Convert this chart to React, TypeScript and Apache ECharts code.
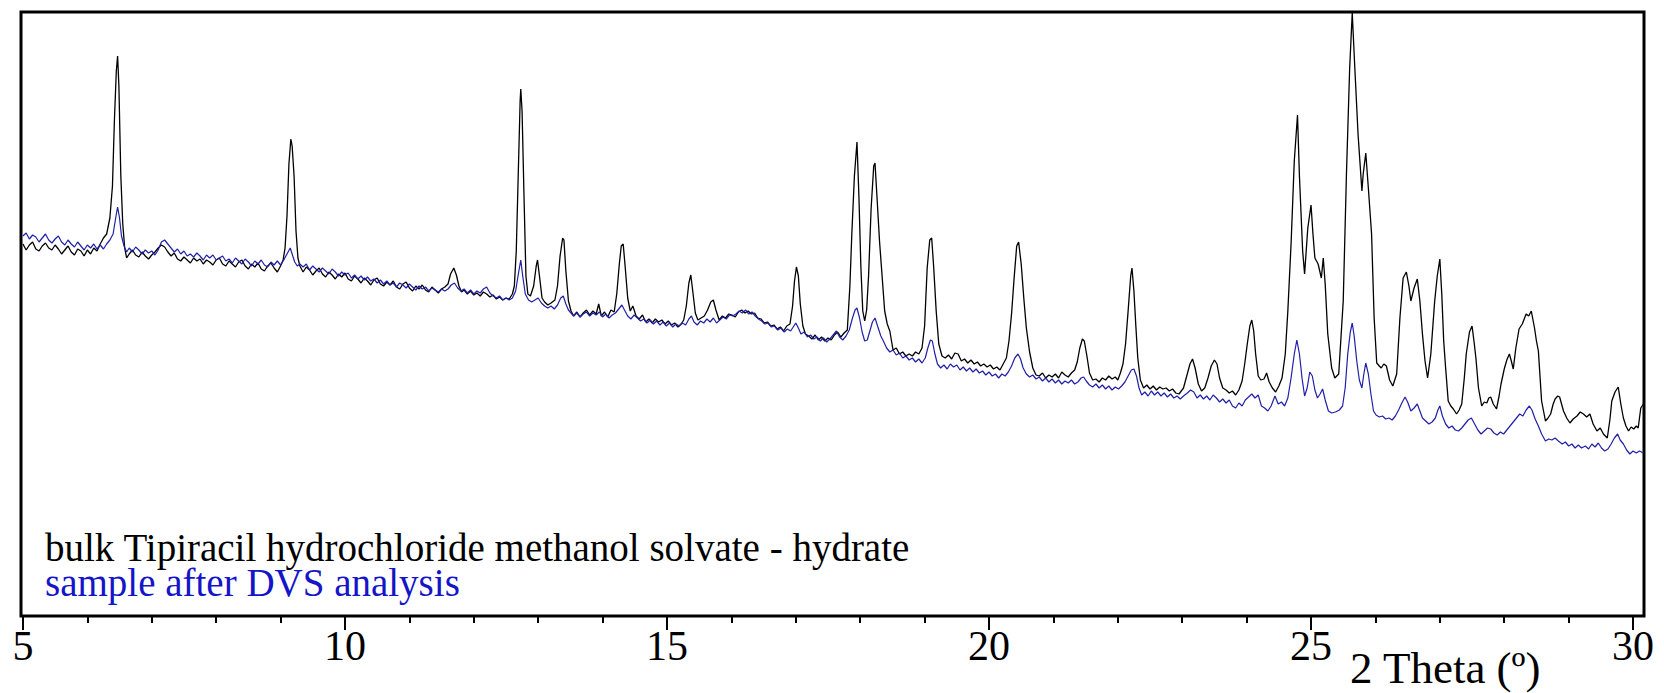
import React, { useEffect, useRef } from "react";
import * as echarts from "echarts";

// 2θ (degrees) vs. intensity (a.u.) for the bulk methanol solvate - hydrate
const bulkPattern: [number, number][] = [
  [5.00,372],[5.05,366],[5.10,371],[5.15,374],[5.20,367],[5.25,365],[5.30,370],[5.35,373],[5.40,368],[5.45,366],
  [5.50,371],[5.55,367],[5.60,362],[5.65,366],[5.70,370],[5.75,364],[5.80,361],[5.85,367],[5.90,365],[5.95,360],
  [6.00,366],[6.05,362],[6.10,368],[6.15,365],[6.20,372],[6.25,378],
  [6.30,382],[6.35,398],[6.39,430],[6.42,495],[6.45,545],[6.47,560],[6.49,530],[6.52,440],[6.55,392],[6.58,368],[6.61,358],
  [6.65,362],[6.70,366],[6.75,361],[6.80,359],[6.85,364],[6.90,360],[6.95,357],[7.00,361],[7.05,364],[7.10,368],
  [7.15,371],[7.20,369],[7.25,364],[7.30,360],[7.35,363],[7.40,357],[7.45,355],[7.50,359],[7.55,356],[7.60,353],
  [7.65,358],[7.70,355],[7.75,357],[7.80,352],[7.85,356],[7.90,354],[7.95,351],[8.00,356],[8.05,358],[8.10,352],
  [8.15,350],[8.20,355],[8.25,352],[8.30,349],[8.35,354],[8.40,356],[8.45,350],[8.50,347],[8.55,352],[8.60,349],
  [8.65,353],[8.70,347],[8.75,345],[8.80,350],[8.85,353],[8.90,348],[8.95,344],[9.00,350],[9.04,356],
  [9.07,368],[9.10,400],[9.13,452],[9.16,477],[9.18,470],[9.21,440],[9.24,385],[9.27,358],[9.30,350],
  [9.35,344],[9.40,349],[9.45,346],[9.50,341],[9.55,345],[9.60,348],[9.65,342],[9.70,339],[9.75,344],[9.80,341],
  [9.85,337],[9.90,342],[9.95,339],[10.00,343],[10.05,337],[10.10,335],[10.15,340],[10.20,337],[10.25,333],[10.30,338],
  [10.35,335],[10.40,331],[10.45,336],[10.50,338],[10.55,332],[10.60,330],[10.65,334],[10.70,331],[10.75,335],[10.80,329],
  [10.85,327],[10.90,332],[10.95,334],[11.00,328],[11.05,325],[11.10,330],[11.15,327],[11.20,331],[11.25,326],[11.30,324],
  [11.35,329],[11.40,326],[11.45,323],[11.50,327],[11.55,329],
  [11.60,332],[11.64,342],[11.69,348],[11.73,341],[11.77,330],[11.81,324],
  [11.85,326],[11.90,322],[11.95,325],[12.00,321],[12.05,323],[12.10,320],[12.15,324],[12.20,322],[12.25,319],[12.30,321],
  [12.35,317],[12.40,319],[12.45,316],[12.50,318],[12.55,317],[12.60,322],
  [12.63,330],[12.66,365],[12.69,440],[12.72,515],[12.73,527],[12.75,505],[12.78,420],[12.81,340],[12.84,322],
  [12.88,320],[12.93,330],[12.97,350],[12.99,356],[13.02,340],[13.06,318],[13.10,314],
  [13.15,311],[13.20,313],[13.26,316],[13.30,330],[13.34,360],[13.38,378],[13.40,376],[13.43,345],[13.47,315],[13.51,305],
  [13.55,300],[13.60,304],[13.65,299],[13.70,303],[13.75,306],[13.80,301],[13.85,305],[13.90,302],[13.94,312],[13.98,300],
  [14.03,304],[14.08,299],[14.13,306],
  [14.18,304],[14.22,322],[14.26,352],[14.29,370],[14.32,372],[14.35,350],[14.39,318],[14.43,305],
  [14.47,310],[14.52,300],[14.57,297],[14.62,301],[14.67,294],[14.72,297],[14.77,293],[14.82,297],[14.87,294],[14.92,296],
  [14.97,292],[15.02,295],[15.07,291],[15.12,293],[15.17,289],[15.22,292],
  [15.26,296],[15.30,310],[15.34,333],[15.37,341],[15.40,325],[15.44,303],[15.48,296],
  [15.53,298],[15.58,300],[15.63,306],[15.68,314],[15.72,316],[15.76,306],[15.81,296],
  [15.86,300],[15.91,298],[15.96,302],[16.01,301],[16.06,299],[16.11,304],[16.16,306],[16.21,303],[16.26,305],[16.31,302],
  [16.36,303],[16.41,298],[16.46,297],[16.51,293],[16.56,294],[16.61,290],[16.66,291],[16.71,287],[16.76,289],[16.81,285],
  [16.86,290],
  [16.91,292],[16.95,310],[16.98,335],[17.01,349],[17.04,340],[17.07,312],[17.11,290],[17.15,282],
  [17.20,280],[17.25,277],[17.30,281],[17.35,276],[17.40,279],[17.45,275],[17.50,278],[17.55,276],[17.60,281],[17.65,284],
  [17.70,279],[17.75,283],
  [17.80,286],[17.84,330],[17.87,382],[17.91,440],[17.95,474],[17.98,420],[18.01,350],[18.04,305],[18.07,295],[18.10,306],
  [18.13,340],[18.17,408],[18.21,450],[18.23,453],[18.26,420],[18.30,375],[18.34,340],[18.38,305],[18.42,292],[18.46,285],
  [18.51,266],
  [18.56,268],[18.61,262],[18.66,264],[18.71,260],[18.76,262],[18.81,260],[18.86,264],[18.91,262],[18.96,268],
  [19.00,290],[19.04,348],[19.08,376],[19.11,378],[19.14,350],[19.18,305],[19.22,272],
  [19.27,260],[19.32,258],[19.37,261],[19.42,257],[19.47,263],[19.52,262],[19.57,255],[19.62,257],[19.67,253],[19.72,256],
  [19.77,252],[19.82,254],[19.87,250],[19.92,252],[19.97,249],[20.02,251],[20.07,247],[20.12,249],[20.17,246],[20.22,252],
  [20.27,258],[20.31,275],[20.35,302],[20.39,338],[20.43,370],[20.46,374],[20.50,352],[20.54,318],[20.58,288],[20.63,264],
  [20.68,248],[20.73,241],
  [20.78,240],[20.83,243],[20.88,238],[20.93,241],[20.98,239],[21.03,242],[21.08,238],[21.13,244],[21.18,241],[21.23,239],
  [21.28,243],[21.33,246],
  [21.37,254],[21.41,268],[21.45,277],[21.48,275],[21.52,260],[21.56,243],[21.61,236],
  [21.66,237],[21.71,234],[21.76,238],[21.81,236],[21.86,240],[21.91,237],[21.96,239],[22.00,236],[22.04,243],
  [22.08,252],[22.12,272],[22.16,305],[22.20,340],[22.22,348],[22.25,325],[22.28,290],[22.31,258],[22.35,236],
  [22.40,228],[22.45,231],[22.50,227],[22.55,230],[22.60,226],[22.65,229],[22.70,227],[22.75,228],[22.80,225],[22.85,227],
  [22.90,223],[22.95,222],
  [23.02,228],[23.07,240],[23.12,252],[23.16,257],[23.20,248],[23.25,232],[23.30,225],
  [23.35,228],[23.40,238],[23.45,250],[23.50,256],[23.54,252],[23.58,238],[23.63,228],
  [23.68,226],[23.73,223],[23.78,225],[23.83,221],[23.88,226],
  [23.93,235],[23.97,252],[24.01,272],[24.05,290],[24.08,296],[24.11,285],[24.14,262],[24.18,240],[24.22,236],
  [24.27,237],[24.31,243],[24.35,234],[24.40,228],[24.45,224],[24.50,230],[24.55,238],
  [24.60,262],[24.64,305],[24.69,372],[24.74,455],[24.79,501],[24.82,440],[24.87,365],[24.90,342],[24.95,388],[25.00,411],
  [25.03,382],[25.06,358],[25.11,352],[25.16,338],[25.19,358],[25.22,332],[25.26,282],[25.32,248],[25.37,238],[25.43,242],
  [25.50,315],[25.55,442],[25.60,548],[25.64,603],[25.68,548],[25.73,482],[25.79,425],[25.81,442],[25.85,463],[25.89,428],
  [25.94,382],[25.98,298],[26.02,253],[26.06,250],[26.09,248],[26.13,252],[26.17,250],[26.22,236],[26.27,230],[26.33,242],
  [26.38,298],[26.43,338],[26.48,344],[26.52,330],[26.55,315],[26.60,328],[26.65,337],[26.69,315],[26.73,282],[26.77,255],
  [26.81,238],[26.86,262],[26.92,315],[26.96,340],[27.00,357],[27.03,322],[27.06,275],[27.09,248],[27.13,215],[27.17,210],
  [27.21,207],[27.26,202],[27.30,206],[27.34,212],[27.38,238],[27.41,262],[27.46,284],[27.50,290],[27.53,275],[27.56,258],
  [27.60,228],[27.65,210],[27.69,214],[27.73,213],[27.76,218],[27.79,219],[27.83,212],[27.88,207],[27.92,220],[27.95,232],
  [28.00,247],[28.04,256],[28.08,262],[28.11,255],[28.14,247],[28.18,268],[28.23,287],[28.28,292],[28.34,302],[28.38,300],
  [28.42,305],[28.47,288],[28.50,275],[28.53,265],[28.58,215],[28.64,195],[28.68,198],[28.72,202],[28.76,212],[28.79,217],
  [28.83,220],[28.86,219],[28.89,212],[28.92,205],[28.97,198],[29.02,193],[29.07,197],[29.13,200],[29.18,204],[29.23,202],
  [29.28,199],[29.33,202],[29.38,192],[29.44,185],[29.49,188],[29.54,182],[29.60,178],[29.64,196],[29.67,215],[29.72,224],
  [29.77,229],[29.81,212],[29.85,198],[29.89,190],[29.93,185],[29.97,189],[30.01,187],[30.05,190],[30.08,188],[30.12,208],
  [30.16,212],
];

// 2θ (degrees) vs. intensity (a.u.) for the sample recovered after DVS
const dvsPattern: [number, number][] = [
  [5.00,380],[5.05,383],[5.10,377],[5.15,381],[5.20,379],[5.25,374],[5.30,378],[5.35,382],[5.40,376],[5.45,373],
  [5.50,377],[5.55,380],[5.60,374],[5.65,371],[5.70,376],[5.75,372],[5.80,369],[5.85,374],[5.90,370],[5.95,366],
  [6.00,371],[6.05,368],[6.10,372],[6.15,367],[6.20,371],[6.25,367],[6.30,372],[6.35,376],[6.40,382],[6.44,398],
  [6.47,409],[6.50,398],[6.53,380],[6.57,370],[6.61,364],
  [6.65,368],[6.70,364],[6.75,369],[6.80,366],[6.85,362],[6.90,366],[6.95,363],[7.00,365],[7.05,361],[7.10,366],
  [7.15,374],[7.20,376],[7.25,372],[7.30,368],[7.35,364],[7.40,367],[7.45,362],[7.50,365],[7.55,360],[7.60,362],
  [7.65,359],[7.70,363],[7.75,360],[7.80,356],[7.85,361],[7.90,358],[7.95,361],[8.00,356],[8.05,358],[8.10,360],
  [8.15,355],[8.20,357],[8.25,353],[8.30,358],[8.35,355],[8.40,352],[8.45,357],[8.50,354],[8.55,350],[8.60,355],
  [8.65,352],[8.70,356],[8.75,351],[8.80,349],[8.85,354],[8.90,351],[8.95,355],[9.00,351],[9.05,356],[9.10,362],
  [9.15,368],[9.18,362],[9.22,354],[9.26,350],[9.30,352],
  [9.35,349],[9.40,352],[9.45,346],[9.50,350],[9.55,347],[9.60,344],[9.65,348],[9.70,345],[9.75,342],[9.80,347],
  [9.85,344],[9.90,340],[9.95,344],[10.00,341],[10.05,343],[10.10,338],[10.15,341],[10.20,337],[10.25,340],[10.30,336],
  [10.35,339],[10.40,335],[10.45,337],[10.50,333],[10.55,336],[10.60,332],[10.65,335],[10.70,331],[10.75,333],[10.80,329],
  [10.85,333],[10.90,331],[10.95,328],[11.00,332],[11.05,329],[11.10,326],[11.15,330],[11.20,327],[11.25,329],[11.30,325],
  [11.35,328],[11.40,326],[11.45,324],[11.50,327],[11.55,325],[11.60,327],[11.65,331],[11.70,333],[11.75,328],[11.80,325],
  [11.85,327],[11.90,323],[11.95,326],[12.00,322],[12.05,325],[12.10,323],[12.15,327],[12.20,329],[12.25,323],[12.30,320],
  [12.35,318],[12.40,320],[12.45,316],[12.50,318],[12.55,316],[12.60,318],[12.65,325],[12.70,345],[12.73,356],[12.76,340],
  [12.80,322],[12.85,316],[12.90,314],[12.95,316],[13.00,318],[13.05,313],[13.10,310],[13.15,308],[13.20,310],[13.25,307],
  [13.30,311],[13.35,318],[13.39,320],[13.43,312],[13.47,306],[13.51,303],
  [13.55,300],[13.60,303],[13.65,299],[13.70,302],[13.75,304],[13.80,300],[13.85,303],[13.90,301],[13.95,304],[14.00,299],
  [14.05,302],[14.10,298],[14.15,301],[14.20,303],[14.25,307],[14.30,311],[14.34,306],[14.39,300],[14.44,297],[14.49,301],
  [14.54,298],[14.59,295],[14.64,297],[14.69,293],[14.74,296],[14.79,292],[14.84,295],[14.89,291],[14.94,294],[14.99,290],
  [15.04,293],[15.09,289],[15.14,292],[15.19,290],[15.24,293],[15.29,291],[15.34,297],[15.38,300],[15.42,294],[15.47,291],
  [15.52,295],[15.57,293],[15.62,297],[15.67,294],[15.72,298],[15.77,293],[15.82,296],
  [15.87,299],[15.92,297],[15.97,301],[16.02,300],[16.07,302],[16.12,305],[16.17,303],[16.22,306],[16.27,302],[16.32,304],
  [16.37,300],[16.42,297],[16.47,295],[16.52,292],[16.57,293],[16.62,289],[16.67,290],[16.72,286],[16.77,288],[16.82,284],
  [16.87,287],[16.92,285],[16.96,289],[17.00,293],[17.04,288],[17.08,282],[17.13,284],[17.18,279],[17.23,281],[17.28,277],
  [17.33,279],[17.38,275],[17.43,278],[17.48,274],[17.53,277],[17.58,281],[17.63,285],[17.68,279],[17.73,276],[17.78,280],
  [17.83,286],[17.88,298],[17.92,306],[17.95,308],[17.99,298],[18.03,284],[18.07,275],[18.11,276],[18.15,285],[18.19,294],
  [18.23,298],[18.27,290],[18.32,280],[18.36,275],[18.41,268],[18.46,264],[18.51,266],[18.56,261],[18.61,263],[18.66,258],
  [18.71,260],[18.76,256],[18.81,258],[18.86,254],[18.91,257],[18.96,253],[19.01,258],[19.05,268],[19.09,276],[19.12,275],
  [19.16,262],[19.20,252],[19.25,248],[19.30,251],[19.35,247],[19.40,252],[19.45,249],[19.50,251],[19.55,246],[19.60,249],
  [19.65,245],[19.70,248],[19.75,244],[19.80,247],[19.85,243],[19.90,245],[19.95,241],[20.00,244],[20.05,240],[20.10,242],
  [20.15,238],[20.20,242],[20.25,240],[20.30,244],[20.35,250],[20.40,258],[20.45,262],[20.49,257],[20.53,248],[20.58,242],
  [20.63,239],[20.68,241],[20.73,237],[20.78,239],[20.83,235],[20.88,238],[20.93,234],[20.98,237],[21.03,233],[21.08,236],
  [21.13,232],[21.18,235],[21.23,233],[21.28,236],[21.33,232],[21.38,234],[21.43,238],[21.47,239],[21.51,235],[21.56,231],
  [21.61,229],[21.66,232],[21.71,228],[21.76,231],[21.81,227],[21.86,230],[21.91,226],[21.96,229],[22.01,227],[22.06,230],
  [22.11,234],[22.16,240],[22.21,246],[22.25,247],[22.29,240],[22.33,228],[22.37,221],[22.42,224],[22.47,220],[22.52,225],
  [22.57,221],[22.62,224],[22.67,220],[22.72,223],[22.77,219],[22.82,222],[22.87,218],[22.92,220],[22.97,217],[23.02,220],
  [23.08,223],[23.13,226],[23.18,224],[23.23,218],[23.28,221],[23.33,217],[23.38,220],[23.43,216],[23.48,221],[23.53,218],
  [23.58,214],[23.63,217],[23.68,213],[23.73,216],[23.78,210],[23.83,208],[23.88,213],[23.93,210],[23.98,216],[24.03,219],
  [24.08,222],[24.13,218],[24.18,221],[24.23,210],[24.28,208],[24.33,205],[24.38,210],[24.44,220],[24.49,212],[24.54,214],
  [24.59,210],[24.64,218],[24.69,238],[24.74,262],[24.78,276],[24.82,262],[24.86,238],[24.90,220],[24.94,228],[24.98,244],
  [25.02,240],[25.06,226],[25.10,218],[25.14,222],[25.18,227],[25.22,216],[25.27,205],[25.32,203],[25.38,204],[25.44,206],
  [25.49,210],[25.53,228],[25.57,262],[25.61,284],[25.64,293],[25.67,280],[25.71,255],[25.75,236],[25.79,228],[25.82,242],
  [25.85,253],[25.89,242],[25.93,222],[25.97,205],[26.01,201],[26.06,199],[26.11,200],[26.16,197],[26.21,198],[26.26,196],
  [26.31,200],[26.36,206],[26.41,213],[26.46,219],[26.50,214],[26.55,205],[26.60,208],[26.65,212],[26.69,205],[26.73,198],
  [26.78,195],[26.83,192],[26.88,194],[26.93,198],[26.97,206],[27.00,210],[27.04,200],[27.09,192],[27.14,188],[27.19,190],
  [27.24,186],[27.29,185],[27.34,188],[27.39,192],[27.44,196],[27.49,198],[27.54,192],[27.59,186],[27.64,182],[27.69,185],
  [27.74,188],[27.79,187],[27.84,183],[27.89,181],[27.94,184],[27.99,182],[28.04,186],[28.09,190],[28.14,194],[28.19,198],
  [28.24,202],[28.29,200],[28.34,206],[28.39,210],[28.43,206],[28.48,197],[28.53,190],[28.58,182],[28.64,175],[28.69,177],
  [28.74,176],[28.79,178],[28.84,175],[28.90,172],[28.95,174],[29.00,170],[29.05,172],[29.10,168],[29.15,171],[29.20,168],
  [29.26,170],[29.31,167],[29.36,172],[29.41,169],[29.46,173],[29.51,168],[29.56,165],[29.61,167],[29.66,172],[29.71,178],
  [29.76,182],[29.80,176],[29.85,172],[29.90,166],[29.95,162],[30.00,165],[30.05,163],[30.10,165],[30.16,163],
];

const thetaRange = [4.97, 30.17];
const tickRange = [5, 30];
const intensityMax = 604;

const legendLines = [
  { key: "bulk", text: "bulk Tipiracil hydrochloride methanol solvate - hydrate", color: "#000000" },
  { key: "dvs", text: "sample after DVS analysis", color: "#1414c8" },
];
const axisTitle = "2 Theta (º)";

const SERIF = '"Liberation Serif", "Times New Roman", serif';

export default function App() {
  const ref = useRef<HTMLDivElement>(null);

  useEffect(() => {
    document.body.style.margin = "0";
    const chart = echarts.init(ref.current!, null, { renderer: "svg" });

    // Two-line key drawn as one rich text block, one colour per line
    const keyRich: Record<string, object> = {};
    legendLines.forEach((l) => {
      keyRich[l.key] = { fill: l.color, font: `39px ${SERIF}`, lineHeight: 35 };
    });
    const keyText = legendLines.map((l) => `{${l.key}|${l.text}}`).join("\n");

    chart.setOption({
      animation: false,
      backgroundColor: "#ffffff",
      grid: [
        {
          left: 21,
          right: 20,
          top: 12,
          bottom: 77,
          show: true,
          borderColor: "#000000",
          borderWidth: 3,
          backgroundColor: "transparent",
        },
        { left: 23, right: 31, top: 12, bottom: 77 },
      ],
      xAxis: [
        { gridIndex: 0, type: "value", min: thetaRange[0], max: thetaRange[1], show: false },
        {
          gridIndex: 1,
          type: "value",
          min: tickRange[0],
          max: tickRange[1],
          interval: 5,
          axisLine: { show: false },
          axisTick: { show: true, length: 14, lineStyle: { color: "#000000", width: 2 } },
          minorTick: { show: true, splitNumber: 5, length: 7, lineStyle: { color: "#000000", width: 2 } },
          splitLine: { show: false },
          minorSplitLine: { show: false },
          axisLabel: { color: "#000000", fontFamily: SERIF, fontSize: 42, margin: 9 },
        },
      ],
      yAxis: [
        { gridIndex: 0, type: "value", min: 0, max: intensityMax, show: false },
        { gridIndex: 1, type: "value", min: 0, max: 1, show: false },
      ],
      series: [
        {
          name: legendLines[0].text,
          type: "line",
          xAxisIndex: 0,
          yAxisIndex: 0,
          data: bulkPattern,
          symbol: "none",
          clip: true,
          lineStyle: { color: "#000000", width: 1.3 },
        },
        {
          name: legendLines[1].text,
          type: "line",
          xAxisIndex: 0,
          yAxisIndex: 0,
          data: dvsPattern,
          symbol: "none",
          clip: true,
          lineStyle: { color: "#2020a8", width: 1.2 },
        },
      ],
      graphic: [
        {
          type: "text",
          x: 45,
          y: 530,
          style: {
            text: keyText,
            rich: keyRich,
            font: `39px ${SERIF}`,
            verticalAlign: "top",
          },
        },
        {
          type: "text",
          x: 1350,
          y: 668,
          style: { text: axisTitle, fill: "#000000", font: `45px ${SERIF}`, verticalAlign: "middle" },
        },
      ],
    });
    return () => chart.dispose();
  }, []);

  return <div ref={ref} style={{ width: 1664, height: 693, background: "#ffffff" }} />;
}
